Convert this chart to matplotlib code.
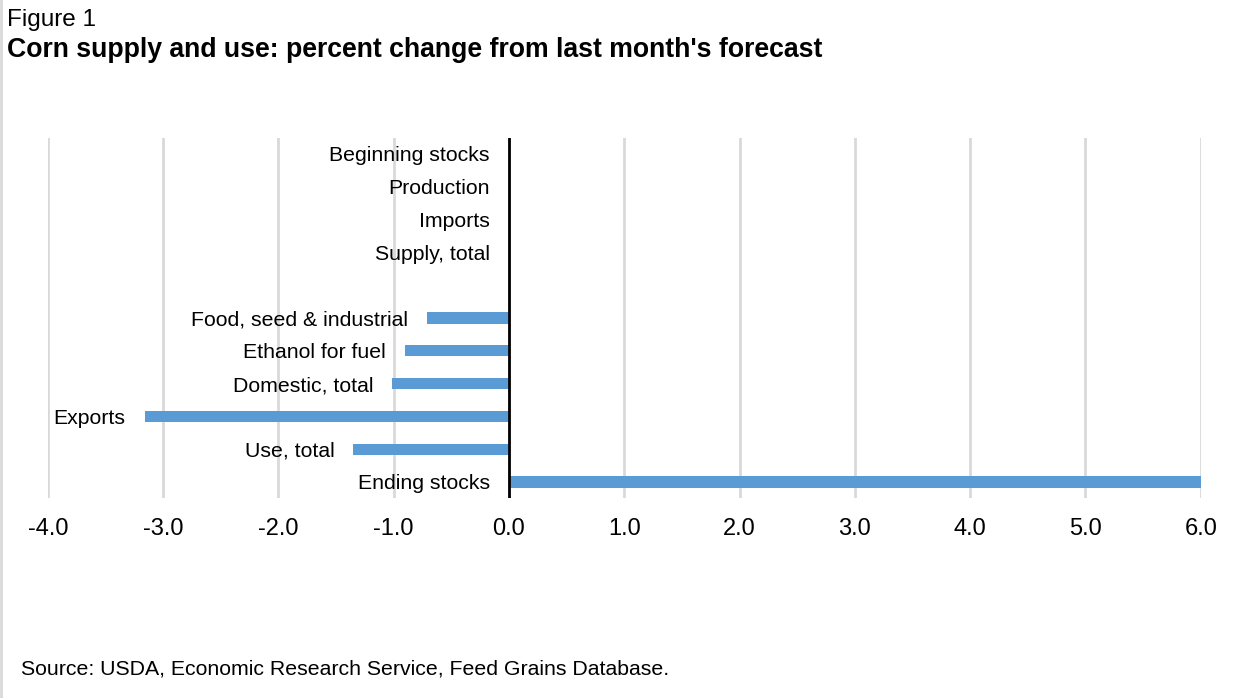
import numpy as np
import matplotlib.pyplot as plt
from matplotlib.lines import Line2D

plt.rcParams["font.family"] = ["Liberation Sans", "DejaVu Sans"]

# Rows from top to bottom; the blank entry leaves a gap between supply and use
categories = ["Beginning stocks", "Production", "Imports", "Supply, total", "",
              "Food, seed & industrial", "Ethanol for fuel", "Domestic, total",
              "Exports", "Use, total", "Ending stocks"]
pct_change = [0.0, 0.0, 0.0, 0.0, np.nan,
              -0.71, -0.90, -1.01, -3.16, -1.35, 6.02]
x_ticks = [-4.0, -3.0, -2.0, -1.0, 0.0, 1.0, 2.0, 3.0, 4.0, 5.0, 6.0]

fig = plt.figure(figsize=(12.47, 6.98), dpi=100)
ax = fig.add_axes([0.0383, 0.286, 0.9246, 0.517])

y = np.arange(len(categories))
vals = np.nan_to_num(np.array(pct_change))
ax.barh(y, vals, height=0.34, color="#5B9BD5", zorder=2)

# category names sit just left of the bar base (or bar end for negatives)
for yi, name, v in zip(y, categories, vals):
    if not name:
        continue
    ax.annotate(name, xy=(min(v, 0.0), yi), xytext=(-19, -2),
                textcoords="offset pixels",
                ha="right", va="center", fontsize=15.3, color="black")

ax.set_xlim(-4.0, 6.0)
ax.set_ylim(len(categories) - 0.5, -0.5)
ax.set_xticks(x_ticks)
ax.set_xticklabels([f"{t:.1f}" for t in x_ticks], fontsize=17)
ax.set_yticks([])
ax.tick_params(axis="x", length=0, pad=14)
ax.grid(axis="x", color="#D9D9D9", linewidth=2, zorder=0)
ax.axvline(0, color="black", linewidth=2, zorder=3)
for s in ax.spines.values():
    s.set_visible(False)

fig.text(0.0056, 0.9627, "Figure 1", fontsize=17.5, va="baseline")
fig.text(0.0056, 0.919, "Corn supply and use: percent change from last month's forecast",
         fontsize=19.2, fontweight="bold", va="baseline")
fig.text(0.017, 0.033, "Source: USDA, Economic Research Service, Feed Grains Database.",
         fontsize=15.3, va="baseline")

# thin grey frame along the left edge
fig.add_artist(Line2D([0.0008, 0.0008], [0, 1], transform=fig.transFigure,
                      color="#D9D9D9", linewidth=2))

fig.savefig("out.png", dpi=100)
